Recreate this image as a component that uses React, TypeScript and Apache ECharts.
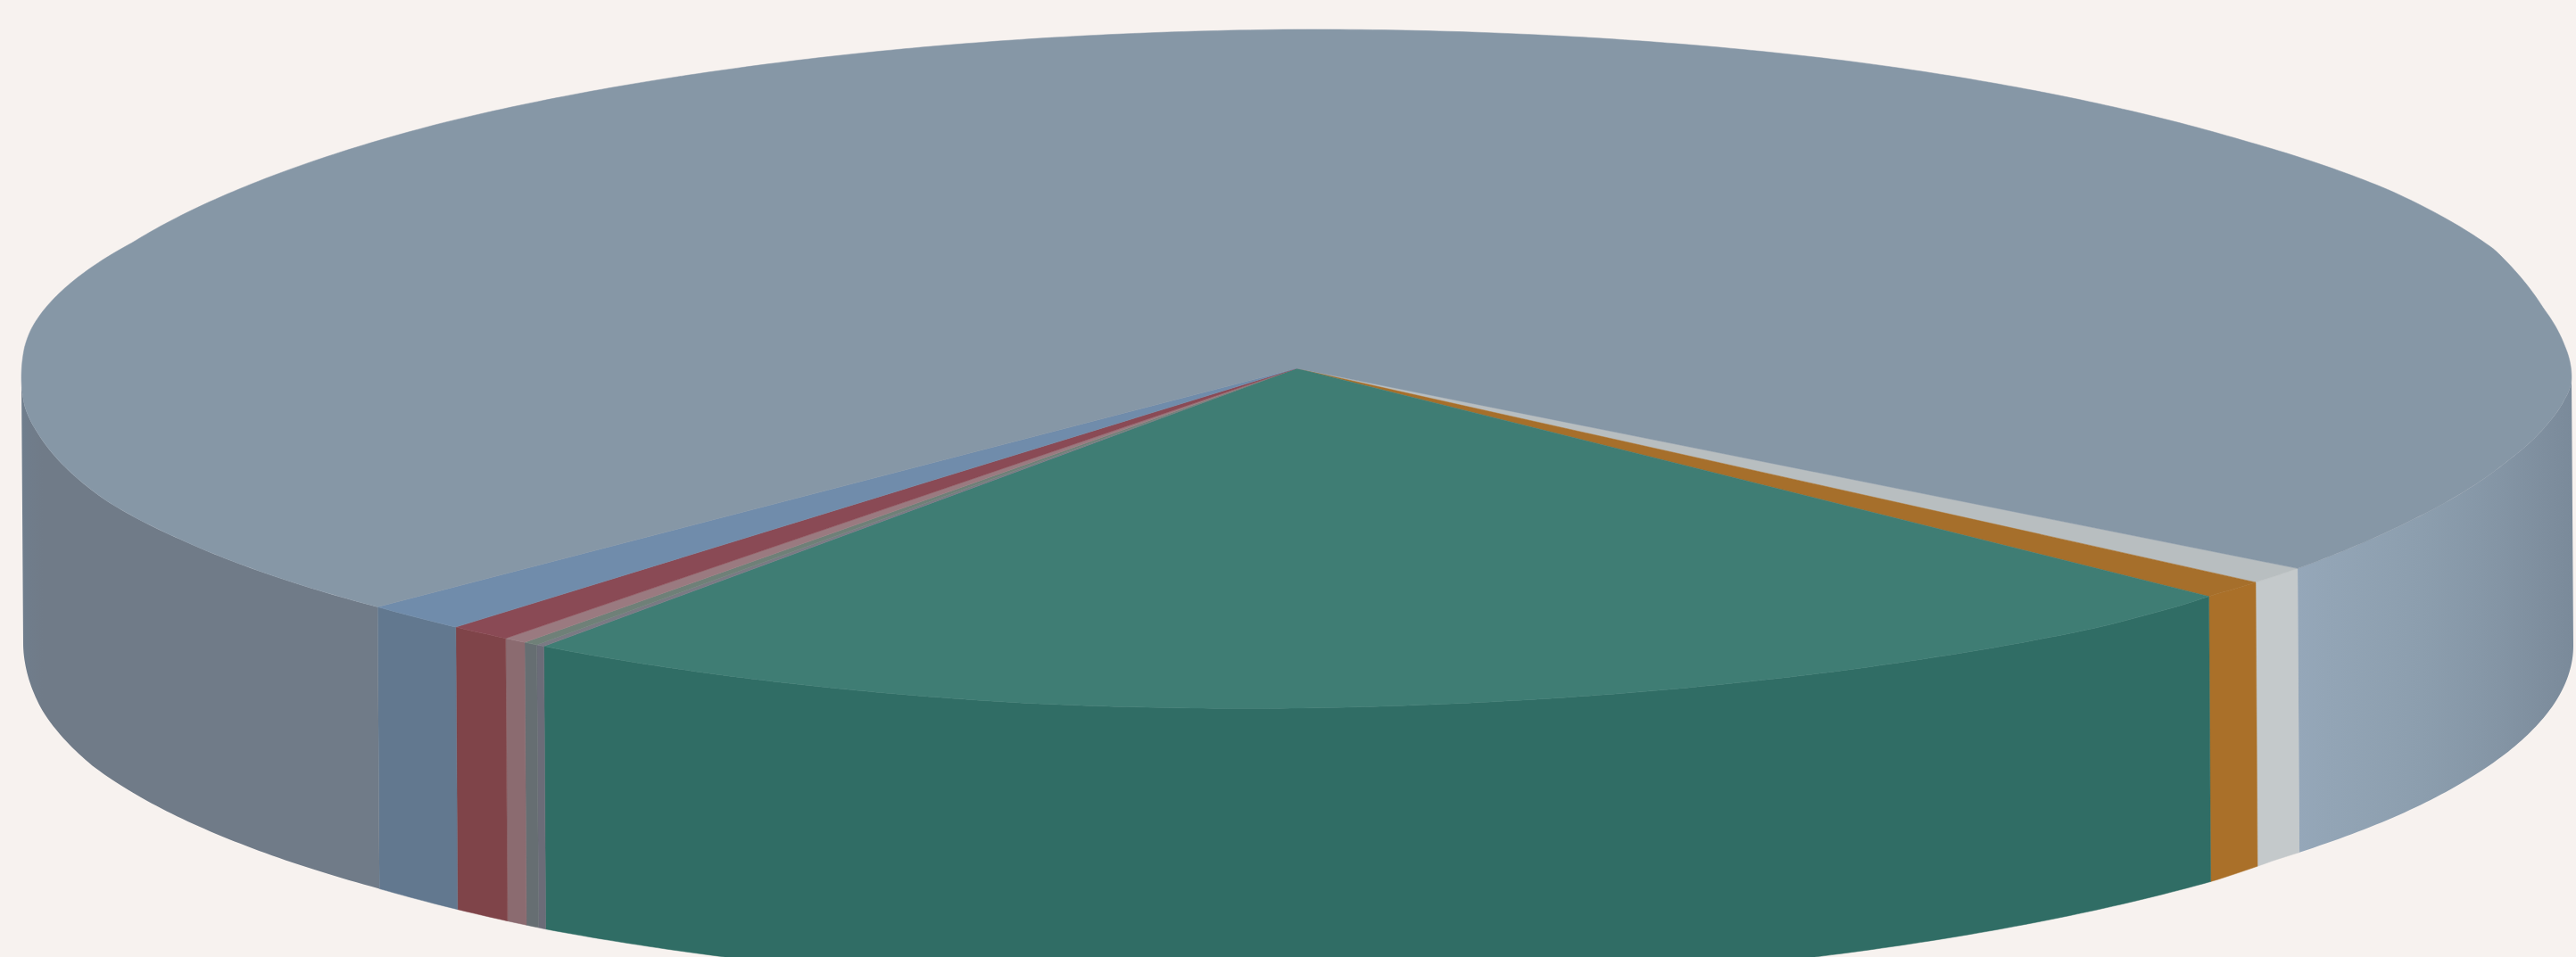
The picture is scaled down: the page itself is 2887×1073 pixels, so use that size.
import React, { useEffect, useRef } from "react";
import * as echarts from "echarts";

// Share of the whole for each slice, in percent, clockwise from the first slice.
const sliceNames = ["Silver", "Amber", "Teal", "Mauve", "Graphite", "Rose", "Crimson", "Steel", "Slate"];
const sliceShares = [0.82, 0.86, 22.74, 0.11, 0.19, 0.3, 0.81, 1.35, 72.82];

const topColors = ["#b8bec0", "#a66f2b", "#3f7d74", "#7a7a84", "#6f8078", "#9a7a80", "#8a4a55", "#708cab", "#8697a6"];
const sideColors = ["#c4c9cb", "#aa7029", "#306d65", "#6b6c78", "#666e72", "#8b6b70", "#7f4449", "#62788f", "#707b88"];

const backgroundColor = "#f7f2ef";
const firstSliceAngle = 38.26; // degrees, clockwise from the right-hand end of the pie
const depth = 0.8316; // rim height, in units of the vertical radius
const rimLean = 0.0014; // horizontal drift of the rim's lower edge
const verticalRadiusPx = 380;

// The disc's outline is not a true ellipse: vertical offsets in pixels, by angle.
const faceOutline = [
  [0, 10], [6, -5], [11, -11], [18, -15], [30, -14], [38, -11], [44, -10], [46, -8], [51, -5],
  [61, -5], [70, -4], [80, -2], [90, 1], [102, 4], [124, 5], [136, 4], [151, 8], [159, 12],
  [171, 12], [176, 15], [180, 10], [184, 3], [187, 3], [196, 9], [204, 14], [215, 11], [228, 7],
  [243, 5], [270, 0], [296, -2], [318, -1], [329, -4], [340, -3], [348, 12], [354, 14], [360, 10],
];
const baseOutline = [
  [0, -5], [30, -7], [40, -9], [44, -6], [70, -3], [100, 2], [126, 6], [136, 4], [161, 6],
  [170, 2], [177, -6], [180, -8], [360, -5],
];

function outlineOffset(table: number[][], deg: number) {
  const d = ((deg % 360) + 360) % 360;
  for (let i = 1; i < table.length; i++) {
    const [a0, v0] = table[i - 1];
    const [a1, v1] = table[i];
    if (d <= a1) return (v0 + ((v1 - v0) * (d - a0)) / (a1 - a0)) / verticalRadiusPx;
  }
  return 0;
}

const toRad = (deg: number) => (deg * Math.PI) / 180;

function rimPoint(api: any, deg: number, lower: boolean) {
  const c = Math.cos(toRad(deg));
  const s = Math.sin(toRad(deg));
  return lower
    ? api.coord([c + rimLean, s + depth + outlineOffset(baseOutline, deg)])
    : api.coord([c, s + outlineOffset(faceOutline, deg)]);
}

function arc(api: any, from: number, to: number, lower: boolean) {
  const steps = Math.max(2, Math.ceil(Math.abs(to - from) * 2));
  const pts: number[][] = [];
  for (let i = 0; i <= steps; i++) {
    pts.push(rimPoint(api, from + ((to - from) * i) / steps, lower));
  }
  return pts;
}

// Cumulative angular span of each slice.
const spans = sliceShares.reduce<number[][]>((acc, share) => {
  const start = acc.length ? acc[acc.length - 1][1] : firstSliceAngle;
  acc.push([start, start + (share / 100) * 360]);
  return acc;
}, []);

const rightRimFill = new echarts.graphic.LinearGradient(0, 0, 1, 0, [
  { offset: 0, color: "#95a7b9" },
  { offset: 0.1, color: "#93a5b6" },
  { offset: 0.45, color: "#8c9eae" },
  { offset: 0.7, color: "#8596a6" },
  { offset: 0.9, color: "#7e8e9e" },
  { offset: 1, color: "#7a8a9a" },
]);

const leftRimFill = new echarts.graphic.LinearGradient(0, 0, 1, 0, [
  { offset: 0, color: "#6f7e8d" },
  { offset: 0.03, color: "#707c8a" },
  { offset: 0.06, color: "#707b88" },
  { offset: 1, color: "#707b88" },
]);

function renderSide(_params: any, api: any) {
  const index = api.value(0);
  const [a0, a1] = spans[index];
  const children: any[] = [];
  // Only the part of the rim facing the viewer, 0-180 degrees, is visible.
  for (const offset of [0, 360]) {
    const from = Math.max(a0, offset);
    const to = Math.min(a1, offset + 180);
    if (from >= to) continue;
    const points = [...arc(api, from, to, false), ...arc(api, to, from, true)];
    const isWide = sliceShares[index] > 50;
    const fill = isWide ? (offset === 0 ? leftRimFill : rightRimFill) : sideColors[index];
    children.push({
      type: "polygon",
      shape: { points },
      style: { fill, stroke: isWide ? "none" : sideColors[index], lineWidth: 0.5 },
    });
  }
  return { type: "group", children };
}

function renderTop(_params: any, api: any) {
  const index = api.value(0);
  const [a0, a1] = spans[index];
  const points = [api.coord([0, 0]), ...arc(api, a0, a1, false)];
  return {
    type: "polygon",
    shape: { points },
    style: { fill: topColors[index], stroke: topColors[index], lineWidth: 0.5 },
  };
}

export default function App() {
  const ref = useRef<HTMLDivElement>(null);

  useEffect(() => {
    document.body.style.margin = "0";
    document.body.style.background = backgroundColor;
    const chart = echarts.init(ref.current!, null, { renderer: "svg" });
    const data = sliceNames.map((name, i) => ({ name, value: [i, sliceShares[i]] }));
    chart.setOption({
      animation: false,
      backgroundColor,
      tooltip: { show: false },
      grid: { left: 24, top: 33, width: 2858, height: 2 * verticalRadiusPx },
      xAxis: { type: "value", min: -1, max: 1, show: false },
      yAxis: { type: "value", min: -1, max: 1, inverse: true, show: false },
      series: [
        { type: "custom", name: "rim", renderItem: renderSide, data, clip: false, silent: true },
        { type: "custom", name: "face", renderItem: renderTop, data, clip: false, silent: true },
      ],
    });
    return () => chart.dispose();
  }, []);

  return <div ref={ref} style={{ width: 2887, height: 1073, overflow: "hidden" }} />;
}
